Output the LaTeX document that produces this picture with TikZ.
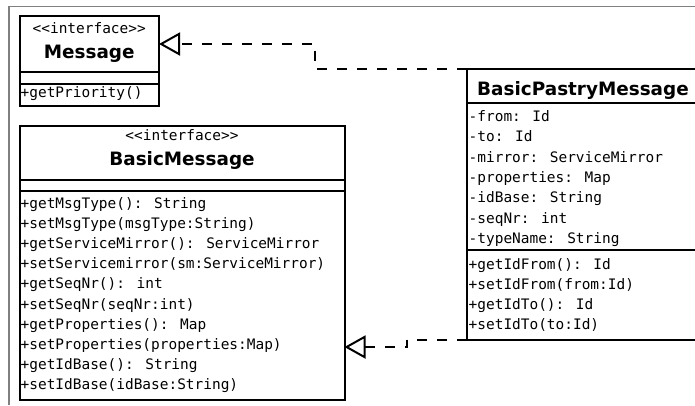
\documentclass[tikz,border=0pt]{standalone}
\usepackage{fontspec}
\setmainfont{DejaVu Sans}
\newfontfamily\umono{DejaVu Sans Mono}
\usetikzlibrary{arrows.meta}

\tikzset{
  umlbox/.style={draw, line width=2pt, fill=white, inner sep=0pt, outer sep=0pt,
                 anchor=north west},
  divider/.style={line width=2pt},
  member/.style={anchor=base west, inner sep=0pt,
                 font=\umono\fontsize{14.45}{18}\selectfont},
  stereo/.style={anchor=base, inner sep=0pt,
                 font=\umono\fontsize{14.45}{18}\selectfont},
  classname/.style={anchor=base, inner sep=0pt,
                    font=\bfseries\fontsize{18.4}{22}\selectfont},
  realize/.style={line width=2pt, dash pattern=on 10pt off 10pt,
                  -{Triangle[open, length=21pt, width=23pt]}},
  frame/.style={line width=1.5pt, draw=black!50}
}

\begin{document}
\begin{tikzpicture}[x=1pt, y=-1pt]
\useasboundingbox (0,0) rectangle (695,405);
\clip (0,0) rectangle (695,405);

% surrounding frame
\draw[frame] (9.2,405) -- (9.2,6.7) -- (695,6.7);

% interface Message
\node[umlbox, minimum width=139.5pt, minimum height=90pt] (msg) at (19.5,16) {};
\draw[divider] (msg.west |- 0,72) -- (msg.east |- 0,72);
\draw[divider] (msg.west |- 0,83.5) -- (msg.east |- 0,83.5);
\node[stereo] (msgst) at (89.25,33) {<<interface>>};
\node[classname] (msgname) at (89.25,58.5) {Message};
\node[member] (m1) at (20.5,97.3) {+getPriority()};

% interface BasicMessage
\node[umlbox, minimum width=325pt, minimum height=274pt] (bm) at (19.5,125.5) {};
\draw[divider] (bm.west |- 0,180.3) -- (bm.east |- 0,180.3);
\draw[divider] (bm.west |- 0,191.3) -- (bm.east |- 0,191.3);
\node[stereo] (bmst) at (182,140.5) {<<interface>>};
\node[classname] (bmname) at (182,165) {BasicMessage};
\node[member] (b1) at (20.5,208.0) {+getMsgType(): String};
\node[member] (b2) at (20.5,228.2) {+setMsgType(msgType:String)};
\node[member] (b3) at (20.5,248.4) {+getServiceMirror(): ServiceMirror};
\node[member] (b4) at (20.5,268.6) {+setServicemirror(sm:ServiceMirror)};
\node[member] (b5) at (20.5,288.8) {+getSeqNr(): int};
\node[member] (b6) at (20.5,309.0) {+setSeqNr(seqNr:int)};
\node[member] (b7) at (20.5,329.2) {+getProperties(): Map};
\node[member] (b8) at (20.5,349.4) {+setProperties(properties:Map)};
\node[member] (b9) at (20.5,369.6) {+getIdBase(): String};
\node[member] (b10) at (20.5,389.8) {+setIdBase(idBase:String)};

% class BasicPastryMessage
\node[umlbox, minimum width=232pt, minimum height=270.8pt] (bpm) at (467,68.7) {};
\draw[divider] (bpm.west |- 0,103) -- (bpm.east |- 0,103);
\draw[divider] (bpm.west |- 0,250.3) -- (bpm.east |- 0,250.3);
\node[classname] (bpmname) at (583,95) {BasicPastryMessage};
\node[member] (p1) at (468.5,121.6) {-from: Id};
\node[member] (p2) at (468.5,141.9) {-to: Id};
\node[member] (p3) at (468.5,162.2) {-mirror: ServiceMirror};
\node[member] (p4) at (468.5,182.5) {-properties: Map};
\node[member] (p5) at (468.5,202.8) {-idBase: String};
\node[member] (p6) at (468.5,223.1) {-seqNr: int};
\node[member] (p7) at (468.5,243.4) {-typeName: String};
\node[member] (p8) at (468.5,269.3) {+getIdFrom(): Id};
\node[member] (p9) at (468.5,289.3) {+setIdFrom(from:Id)};
\node[member] (p10) at (468.5,309.3) {+getIdTo(): Id};
\node[member] (p11) at (468.5,329.3) {+setIdTo(to:Id)};

% realization connectors
\coordinate (msgIn) at (msg.east |- 0,44);
\coordinate (bend1) at (315,44);
\coordinate (bmIn) at (bm.east |- 0,347);
\coordinate (bend2) at (407,347);
\draw[realize] (bpm.north west) -| (bend1) -- (msgIn);
\draw[realize] (bpm.south west) -| (bend2) -- (bmIn);
\end{tikzpicture}
\end{document}
